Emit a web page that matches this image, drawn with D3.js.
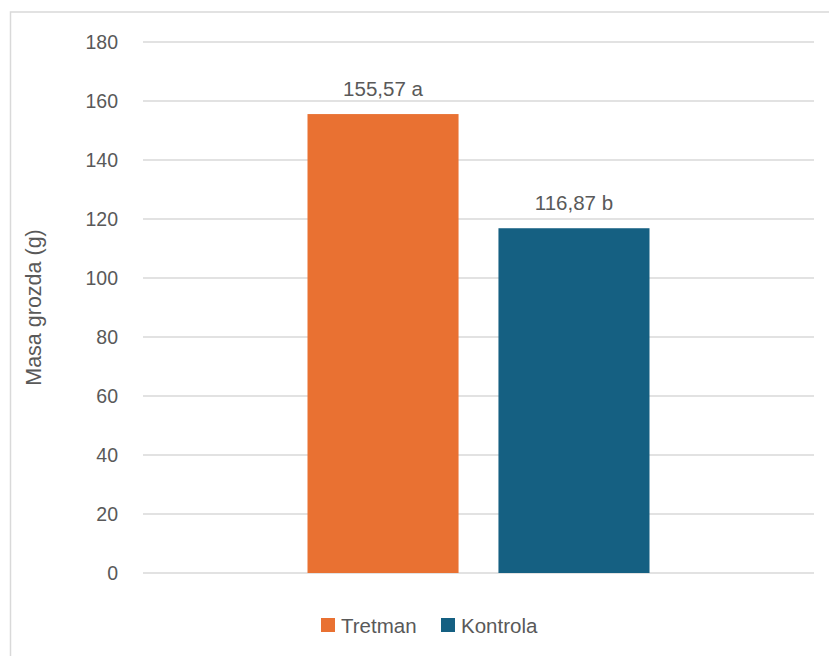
<!DOCTYPE html>
<head>
  <meta charset="utf-8">
  <script src="https://d3js.org/d3.v7.min.js"></script>
  <style>
    body { margin:0; background:#fff; }
    text { font-family: "Liberation Sans", Arial, sans-serif; fill:#595959; }
    .grid line { stroke:#d9d9d9; stroke-width:1.5px; }
  </style>
</head>
<body>
  <svg id="chart"></svg>
  <script>
  var series = ["Tretman", "Kontrola"];
  var values = [155.57, 116.87];
  var labels = ["155,57 a", "116,87 b"];
  var colors = ["#E97132", "#156082"];
  var yTicks = [0, 20, 40, 60, 80, 100, 120, 140, 160, 180];

  var width = 829, height = 656;
  var plot = {left: 143, right: 814, top: 42, bottom: 573};

  var svg = d3.select("#chart")
    .attr("width", width)
    .attr("height", height);

  // chart border
  svg.append("rect")
    .attr("x", 10.5).attr("y", 12)
    .attr("width", 840).attr("height", 680)
    .attr("fill", "none")
    .attr("stroke", "#d9d9d9")
    .attr("stroke-width", 1.5);

  var yScale = d3.scaleLinear()
    .domain([0, 180])
    .range([plot.bottom, plot.top]);

  // one category, two series
  var x0 = d3.scaleBand()
    .domain(["grp"])
    .range([plot.left, plot.right])
    .paddingInner(0).paddingOuter(0.481);

  var x1 = d3.scaleBand()
    .domain(series)
    .range([0, x0.bandwidth()])
    .paddingInner(0.209);

  // gridlines
  svg.append("g")
    .attr("class", "grid")
    .selectAll("line")
    .data(yTicks)
    .enter().append("line")
    .attr("x1", plot.left).attr("x2", plot.right)
    .attr("y1", function(d) { return yScale(d); })
    .attr("y2", function(d) { return yScale(d); });

  // y axis labels
  var yAxis = d3.axisLeft(yScale).tickValues(yTicks).tickSize(0).tickPadding(25);
  var yg = svg.append("g")
    .attr("transform", "translate(" + plot.left + ",0)")
    .call(yAxis);
  yg.select(".domain").remove();
  yg.selectAll("text")
    .attr("fill", "#595959")
    .style("font-size", "19.5px")
    .style("font-family", "'Liberation Sans', Arial, sans-serif");

  // bars
  svg.selectAll(".bar")
    .data(series)
    .enter().append("rect")
    .attr("class", "bar")
    .attr("x", function(d) { return x0("grp") + x1(d); })
    .attr("width", x1.bandwidth())
    .attr("y", function(d, i) { return yScale(values[i]); })
    .attr("height", function(d, i) { return yScale(0) - yScale(values[i]); })
    .attr("fill", function(d, i) { return colors[i]; });

  // data labels
  svg.selectAll(".lbl")
    .data(series)
    .enter().append("text")
    .attr("class", "lbl")
    .attr("x", function(d) { return x0("grp") + x1(d) + x1.bandwidth() / 2; })
    .attr("y", function(d, i) { return yScale(values[i]) - 18; })
    .attr("text-anchor", "middle")
    .style("font-size", "20.5px")
    .text(function(d, i) { return labels[i]; });

  // y axis title
  svg.append("text")
    .attr("transform", "translate(41," + (plot.top + plot.bottom) / 2 + ") rotate(-90)")
    .attr("text-anchor", "middle")
    .style("font-size", "21.5px")
    .text("Masa grozda (g)");

  // legend
  var legendX = [321, 441];
  var lg = svg.selectAll(".leg")
    .data(series)
    .enter().append("g")
    .attr("transform", function(d, i) { return "translate(" + legendX[i] + ",618)"; });
  lg.append("rect")
    .attr("width", 14).attr("height", 14)
    .attr("fill", function(d, i) { return colors[i]; });
  lg.append("text")
    .attr("x", 20).attr("y", 14.5)
    .style("font-size", "20.5px")
    .text(function(d) { return d; });
  </script>
</body>
